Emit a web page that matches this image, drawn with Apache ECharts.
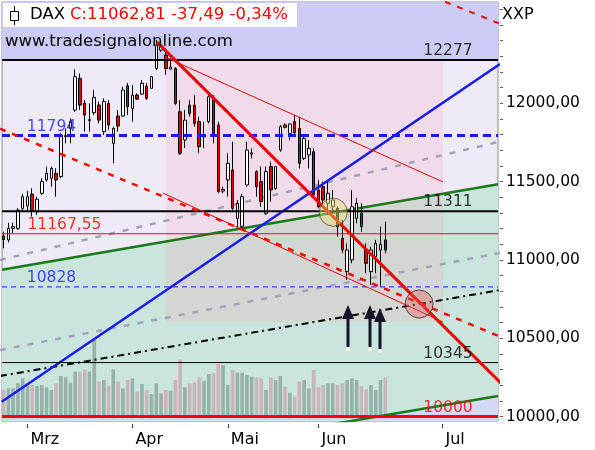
<!DOCTYPE html>
<html>
<head>
<meta charset="utf-8">
<script src="https://cdn.jsdelivr.net/npm/echarts@6.0.0/dist/echarts.min.js"></script>
<style>
  html, body { margin: 0; padding: 0; background: #fff; }
  #chart { width: 595px; height: 450px; }
</style>
</head>
<body>
<div id="chart"></div>
<script>
// trading days, one candle each (index = position on the x axis)
const days = [
  '23.02','24.02','25.02','26.02','27.02',
  '02.03','03.03','04.03','05.03','06.03','09.03','10.03','11.03','12.03','13.03',
  '16.03','17.03','18.03','19.03','20.03','23.03','24.03','25.03','26.03','27.03','30.03','31.03',
  '01.04','02.04','07.04','08.04','09.04','10.04','13.04','14.04','15.04','16.04','17.04',
  '20.04','21.04','22.04','23.04','24.04','27.04','28.04','29.04','30.04',
  '04.05','05.05','06.05','07.05','08.05','11.05','12.05','13.05','14.05','15.05',
  '18.05','19.05','20.05','21.05','22.05','26.05','27.05','28.05','29.05',
  '01.06','02.06','03.06','04.06','05.06','08.06','09.06','10.06','11.06','12.06',
  '15.06','16.06','17.06','18.06','19.06'
];
// [open, close, low, high]
const candles = [
  [11153,11130,11075,11181],[11128,11202,11111,11238],[11202,11213,11171,11238],[11202,11319,11192,11330],[11330,11404,11315,11421],
  [11345,11404,11315,11442],[11421,11315,11277,11458],[11308,11388,11287,11404],[11426,11500,11415,11521],[11511,11553,11500,11596],
  [11521,11585,11468,11596],[11553,11511,11404,11585],[11532,11798,11521,11809],[11787,11795,11745,11840],[11840,11883,11745,11904],
  [11957,12170,11946,12217],[12160,11989,11957,12191],[12000,11925,11819,12021],[11890,11896,11819,12000],[11940,12038,11925,12085],
  [11989,11893,11872,12011],[11819,12011,11798,12032],[12000,11862,11830,12021],[11745,11840,11617,11851],[11919,11855,11819,11957],
  [11919,12085,11915,12106],[12112,11978,11925,12131],[11968,12053,11883,12117],[12053,12027,12021,12064],[12059,12128,12053,12149],
  [12110,12032,12021,12131],[12096,12170,12096,12174],[12223,12372,12212,12404],[12340,12366,12329,12393],[12308,12223,12181,12353],
  [12219,12232,12212,12287],[12223,12000,11989,12230],[11946,11681,11670,12021],[11766,11893,11715,11957],[11989,11936,11915,12021],
  [11989,11872,11851,12053],[11883,11723,11681,11915],[11787,11800,11713,11883],[11883,12042,11872,12053],[12032,11808,11745,12053],
  [11862,11436,11426,11883],[11440,11450,11426,11468],[11511,11617,11404,11681],[11574,11330,11319,11755],[11266,11362,11202,11383],
  [11213,11404,11202,11420],[11479,11702,11468,11755],[11676,11684,11649,11713],[11564,11468,11404,11574],[11500,11372,11340,11596],
  [11298,11564,11287,11596],[11596,11447,11372,11628],[11457,11596,11447,11600],[11702,11851,11691,11862],[11862,11847,11840,11872],
  [11808,11868,11766,11872],[11883,11813,11798,11925],[11840,11617,11585,11915],[11649,11776,11638,11798],[11670,11713,11585,11766],
  [11691,11415,11404,11713],[11447,11340,11330,11511],[11468,11383,11351,11500],[11362,11426,11287,11511],[11340,11383,11298,11447],
  [11330,11213,11149,11340],[11138,11064,11043,11255],[10926,11064,10873,11106],[11000,11340,10979,11447],[11266,11362,11234,11394],
  [11298,11213,11181,11362],[11064,10979,10915,11106],[10926,11064,10841,11085],[11021,11106,10915,11128],[11064,11100,10830,11213],
  [11128,11063,11043,11245]
];
const volume = [
  85,90,90,105,120,105,100,97,100,93,85,105,127,123,107,140,140,147,140,235,
  110,115,97,147,110,90,115,120,80,103,85,73,105,75,85,83,115,177,93,105,
  107,123,113,133,135,163,160,100,145,137,137,130,125,123,120,85,123,115,127,95,
  77,65,110,115,90,145,93,100,105,105,100,105,115,120,115,97,87,100,85,115,123
];
const monthTicks = [5, 27, 47, 66, 92];
const monthLabels = ['Mrz', 'Apr', 'Mai', 'Jun', 'Jul'];
const priceLabels = [10000, 10500, 11000, 11500, 12000];
const priceTicks = [];
for (let v = 10000; v <= 12600; v += 100) priceTicks.push(v);

// horizontal levels: [value, label x index, colour]
const levelsRight = [[12277, 93.15, '#000'], [11311, 93.15, '#000'], [10345, 93.15, '#000'], [10000, 93.15, '#ff0000']];
const levelsLeft = [[11794, 10.04, '#1a1aff'], [11167.55, 12.76, '#ff0000'], [10828, 10.04, '#1a1aff']];

// drawn trend lines, ends as [index, price]
const blueTrend = [[-0.4, 10095], [104.04, 12251]];
const greenUpper = [[-0.335, 10938], [103.63, 11483]];
const greenLower = [[-0.335, 9593], [103.63, 10131]];
const dashDotTrend = [[-0.755, 10259], [104.04, 10808]];
const redTrend = [[32.15, 12391], [104.2, 10215]];
const channelTop = [[33.83, 12296], [92.1, 11498]];
const channelBottom = [[33.41, 11427], [92.1, 10604]];
const redDashed = [[-0.755, 11838], [104.04, 10511]];
const redDashedUpper = [[90, 12679], [104, 12509]];
const grayUpper = [[-0.755, 11000], [104.04, 11756]];
const grayLower = [[-0.755, 10425], [104.04, 11045]];
const pinkZone = [34, 92.1, 12277, 10604];
const circles = [[69.1, 11305], [87.1, 10719]];
const arrows = [[72.1, 10713, 10444], [76.9, 10713, 10444], [78.9, 10694, 10432]];

const X_MIN = -0.335, X_MAX = 103.63, Y_MIN = 9972, Y_MAX = 12647;
const FONT = 'DejaVu Sans';

function zone(points, color, z) {
  return {
    type: 'custom', z: z, clip: true, silent: true, animation: false,
    data: [[X_MIN, Y_MIN]],
    renderItem: function (params, api) {
      return { type: 'polygon', shape: { points: points.map(p => api.coord(p)) }, style: { fill: color } };
    }
  };
}
function trend(points, color, width, type, z) {
  return {
    type: 'line', data: points, symbol: 'none', silent: true, clip: true, z: z || 6, animation: false,
    lineStyle: { color: color, width: width, type: type || 'solid' }
  };
}
function level(v, color, width, type) {
  return trend([[X_MIN, v], [X_MAX, v]], color, width, type, 6);
}

const series = [
  zone([[X_MIN, 12277], [X_MAX, 12277], [X_MAX, Y_MAX], [X_MIN, Y_MAX]], '#cbcbf3', 1),
  zone([greenUpper[0], greenUpper[1], greenLower[1], greenLower[0]], '#c9e5dd', 1),
  zone([greenLower[0], greenLower[1], [X_MAX, Y_MIN], [X_MIN, Y_MIN]], '#d9d7f6', 1),
  zone([[pinkZone[0], pinkZone[2]], [pinkZone[1], pinkZone[2]], [pinkZone[1], pinkZone[3]], [pinkZone[0], pinkZone[3]]],
       'rgba(245,170,180,0.22)', 2),
  {
    type: 'bar', yAxisIndex: 1, barWidth: 3.6, z: 3, silent: true, animation: false,
    data: volume.map((v, k) => ({
      value: [k, v],
      itemStyle: { color: candles[k][1] >= candles[k][0] ? 'rgba(110,135,130,0.55)' : 'rgba(205,140,158,0.55)' }
    }))
  },
  trend(grayUpper, '#a4a2b8', 2.5, [6, 8], 4),
  trend(grayLower, '#a4a2b8', 2.5, [6, 8], 4),
  trend(dashDotTrend, '#000', 2, [7, 4, 2, 4], 4),
  trend(greenUpper, '#1a7a1a', 2.5, 'solid', 4),
  trend(greenLower, '#1a7a1a', 2.5, 'solid', 4),
  trend(blueTrend, '#1a1aff', 2.5, 'solid', 6),
  {
    type: 'candlestick', z: 5, barWidth: 3, silent: true, animation: false,
    data: days.map((d, k) => [k].concat(candles[k])),
    itemStyle: { color: '#ffffff', color0: '#e00000', borderColor: '#000', borderColor0: '#000', borderWidth: 1 }
  },
  level(12277, '#000', 2),
  level(11311, '#000', 2),
  level(10345, '#000', 1),
  level(10000, '#ff0000', 3),
  level(11167.55, '#ff0000', 1),
  level(11794, '#1a1aff', 3, [8, 5]),
  level(10828, '#1a1aff', 1, [5, 4]),
  trend(redDashed, '#ff0000', 2.5, [6, 7], 6),
  trend(redDashedUpper, '#ff0000', 2, [6, 7], 6),
  trend(channelTop, '#ff0000', 1, 'solid', 6),
  trend(channelBottom, '#ff0000', 1, 'solid', 6),
  trend(redTrend, '#f00000', 3, 'solid', 6),
  {
    type: 'scatter', z: 7, silent: true, animation: false, symbolSize: 28,
    data: circles.map((c, k) => ({
      value: c,
      itemStyle: k === 0
        ? { color: 'rgba(238,226,120,0.55)', borderColor: '#5a4a28', borderWidth: 1 }
        : { color: 'rgba(228,100,100,0.5)', borderColor: '#402020', borderWidth: 1 }
    }))
  },
  {
    type: 'custom', z: 8, silent: true, animation: false,
    encode: { x: 0, y: [1, 2] },
    data: arrows,
    renderItem: function (params, api) {
      const top = api.coord([api.value(0), api.value(1)]);
      const bot = api.coord([api.value(0), api.value(2)]);
      const x = Math.round(top[0]);
      return {
        type: 'group', children: [
          { type: 'rect', shape: { x: x - 1.5, y: top[1] + 10, width: 3, height: bot[1] - top[1] - 10 }, style: { fill: '#14142a' } },
          { type: 'polygon', shape: { points: [[x, top[1]], [x + 6, top[1] + 14], [x - 6, top[1] + 14]] }, style: { fill: '#14142a' } },
          { type: 'rect', shape: { x: x - 2, y: bot[1], width: 4, height: 4 }, style: { fill: '#f6f4e0' } }
        ]
      };
    }
  },
  {
    type: 'scatter', z: 9, silent: true, animation: false, symbolSize: 0,
    label: { show: true, position: 'top', distance: 1, fontFamily: FONT, fontSize: 15.5 },
    data: levelsRight.concat(levelsLeft).map(l => ({
      value: [l[1], l[0]],
      label: { color: l[2], formatter: String(l[0]).replace('.', ',') }
    }))
  }
];

const option = {
  backgroundColor: '#ffffff',
  animation: false,
  grid: {
    left: 2, top: 2, right: 97, bottom: 29,
    show: true, backgroundColor: '#eeeaf8', borderColor: '#8a8a8a', borderWidth: 1,
    containLabel: false, outerBoundsMode: 'none'
  },
  xAxis: {
    type: 'value', min: X_MIN, max: X_MAX, offset: 3,
    axisLine: { show: false, onZero: false },
    splitLine: { show: false },
    axisTick: { show: true, customValues: monthTicks, length: 4, lineStyle: { color: '#404040' } },
    axisLabel: {
      customValues: monthTicks, align: 'left', padding: [0, 0, 0, 3], margin: 8,
      fontFamily: FONT, fontSize: 16, color: '#000',
      formatter: v => monthLabels[monthTicks.indexOf(v)]
    }
  },
  yAxis: [
    {
      type: 'value', position: 'right', min: Y_MIN, max: Y_MAX, offset: 2,
      axisLine: { show: false, onZero: false },
      splitLine: { show: false },
      axisTick: { show: true, inside: false, customValues: priceTicks, length: 3, lineStyle: { color: '#606060' } },
      axisLabel: {
        customValues: priceLabels, margin: 6,
        fontFamily: FONT, fontSize: 15.5, color: '#000',
        formatter: v => v.toFixed(2).replace('.', ',')
      }
    },
    { type: 'value', show: false, min: -8, max: 1249, axisLine: { onZero: false } }
  ],
  graphic: [
    { type: 'rect', shape: { x: 3, y: 3, width: 294, height: 24 }, style: { fill: '#ffffff' }, z: 100 },
    { type: 'line', shape: { x1: 14.5, y1: 6, x2: 14.5, y2: 25 }, style: { stroke: '#000', lineWidth: 1 }, z: 101 },
    { type: 'rect', shape: { x: 10.5, y: 11.5, width: 8, height: 9 }, style: { fill: '#fff', stroke: '#000', lineWidth: 1 }, z: 102 },
    { type: 'text', x: 30, y: 15, z: 102, style: { text: 'DAX', fill: '#000', font: '16.5px "DejaVu Sans"', textVerticalAlign: 'middle' } },
    { type: 'text', x: 70, y: 15, z: 102, style: { text: 'C:11062,81 -37,49 -0,34%', fill: '#ff0000', font: '16.5px "DejaVu Sans"', textVerticalAlign: 'middle' } },
    { type: 'text', x: 5, y: 42, z: 102, style: { text: 'www.tradesignalonline.com', fill: '#000', font: '16.5px "DejaVu Sans"', textVerticalAlign: 'middle' } },
    { type: 'text', x: 502, y: 15, z: 102, style: { text: 'XXP', fill: '#000', font: '16px "DejaVu Sans"', textVerticalAlign: 'middle' } }
  ],
  series: series
};

const chart = echarts.init(document.getElementById('chart'), null, { renderer: 'canvas' });
chart.setOption(option);
</script>
</body>
</html>
